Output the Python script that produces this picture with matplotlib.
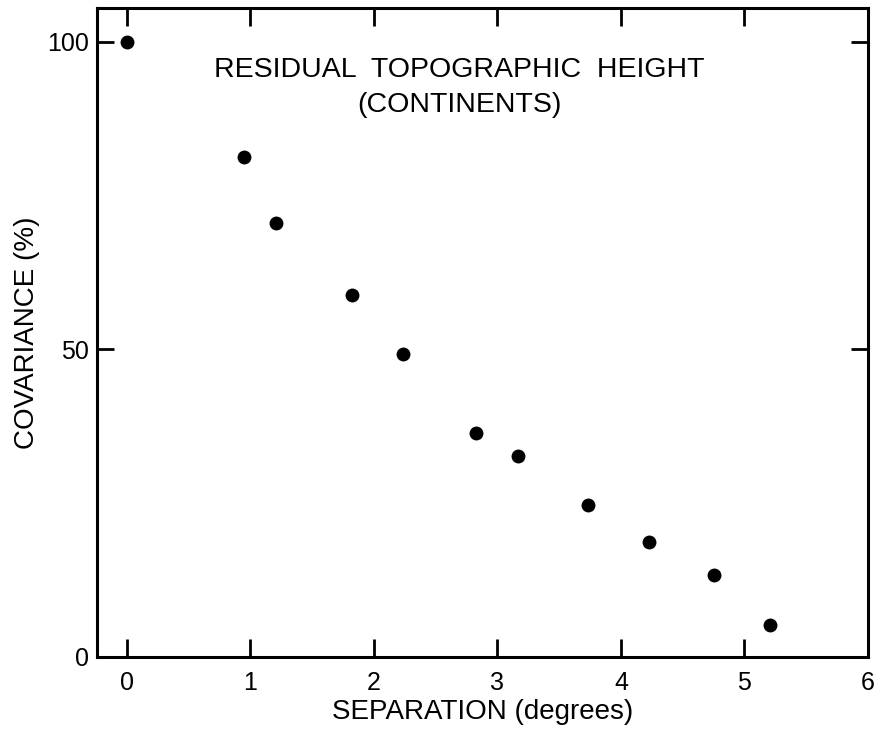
import matplotlib
matplotlib.use("Agg")
import matplotlib.pyplot as plt

separation = [0.0, 0.95, 1.21, 1.82, 2.24, 2.83, 3.17, 3.73, 4.23, 4.75, 5.21]
covariance = [100.0, 81.2, 70.6, 58.9, 49.2, 36.4, 32.6, 24.7, 18.7, 13.3, 5.2]
xticks = [0, 1, 2, 3, 4, 5, 6]
yticks = [0, 50, 100]

plt.rcParams['font.family'] = ['Liberation Sans', 'DejaVu Sans']

W, H = 883, 736
fig = plt.figure(figsize=(W / 100, H / 100), dpi=100)
left, right, top, bottom = 97, 868, 8, 657
ax = fig.add_axes([left / W, 1 - bottom / H, (right - left) / W, (bottom - top) / H])

ax.plot(separation, covariance, 'o', color='black', markersize=10, markeredgewidth=0)

ax.set_xlim(-0.24, 6.0)
ax.set_ylim(0, 105.5)
ax.set_xticks(xticks)
ax.set_yticks(yticks)
ax.set_xticklabels([str(t) for t in xticks], fontsize=18)
ax.set_yticklabels([str(t) for t in yticks], fontsize=18)
ax.tick_params(axis='x', direction='in', length=13, width=2, top=True, pad=10)
ax.tick_params(axis='y', direction='in', length=12, width=2, right=True, pad=6)
for s in ax.spines.values():
    s.set_linewidth(2.2)

ax.text(0.4695, 0.8937, 'RESIDUAL  TOPOGRAPHIC  HEIGHT', transform=ax.transAxes,
        ha='center', va='baseline', fontsize=20.5)
ax.text(0.4695, 0.8398, '(CONTINENTS)', transform=ax.transAxes,
        ha='center', va='baseline', fontsize=20.5)

fig.text(483 / W, 1 - 712 / H, 'SEPARATION (degrees)', ha='center', va='center', fontsize=20)
fig.text(27 / W, 1 - 333 / H, 'COVARIANCE (%)', ha='center', va='center', rotation=90, fontsize=20)

fig.savefig('out.png', dpi=100)
